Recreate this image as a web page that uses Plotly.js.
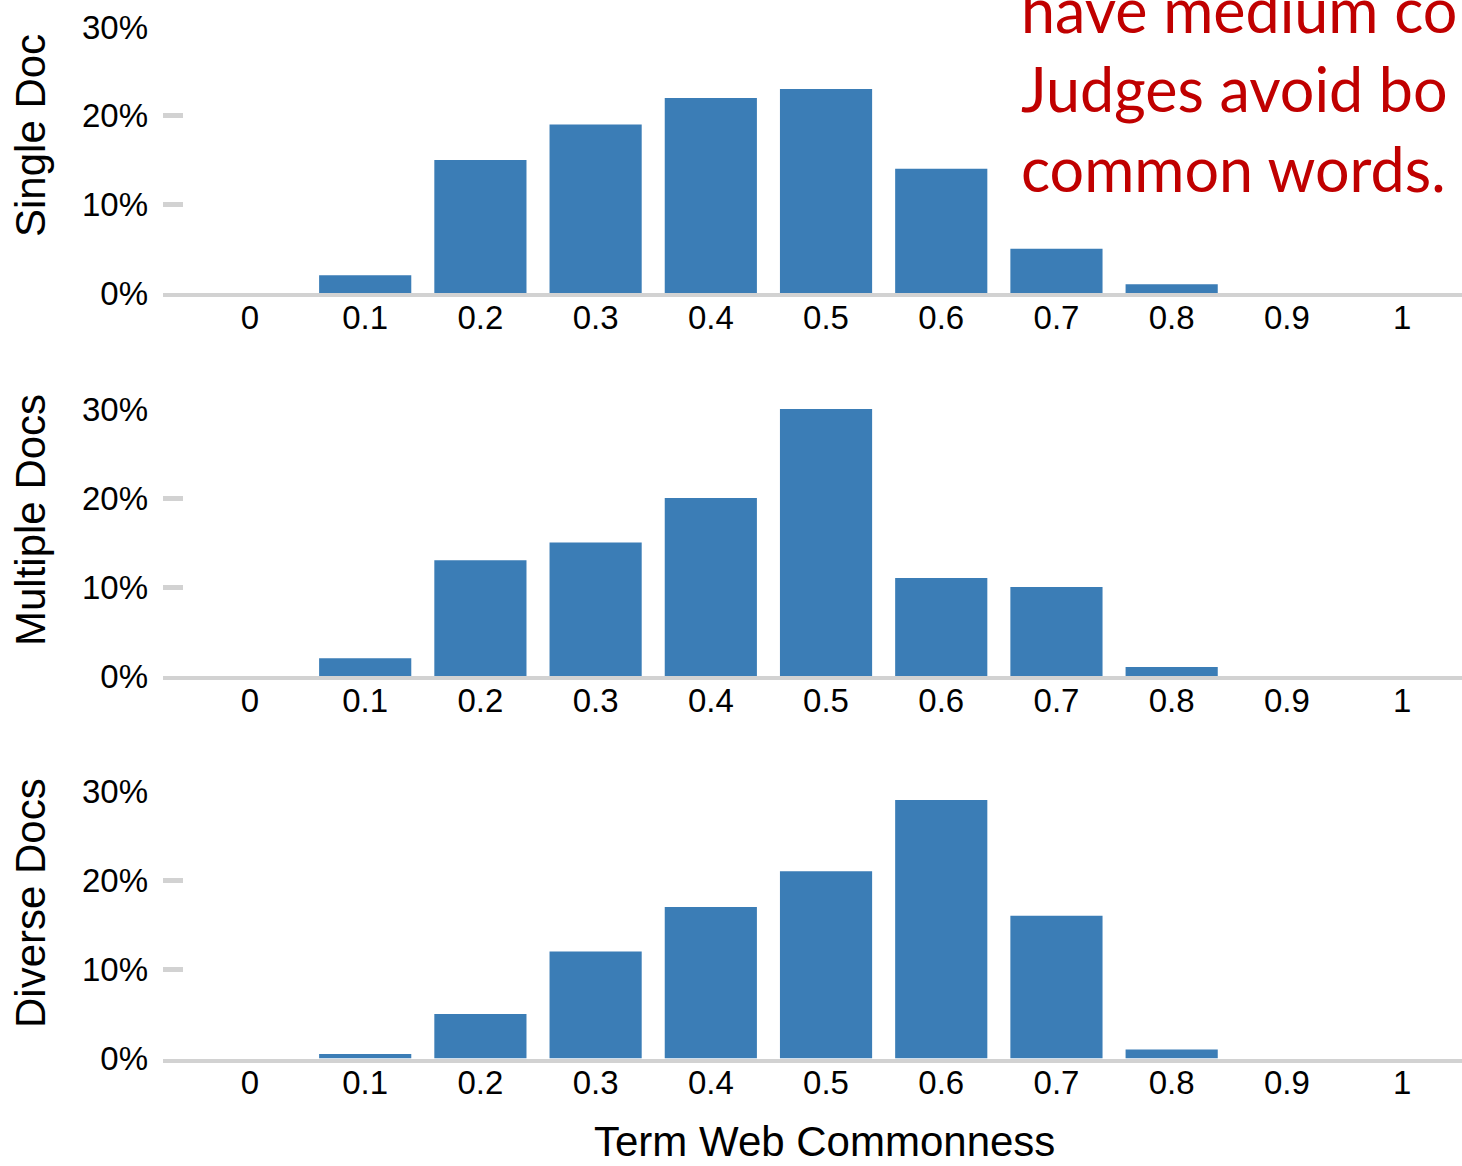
<!DOCTYPE html>
<html>
<head>
<meta charset="utf-8">
<script src="https://cdn.plot.ly/plotly-3.0.1.min.js"></script>
<style>
  html, body { margin: 0; padding: 0; background: #fff; }
  #chart { width: 1462px; height: 1166px; }
</style>
</head>
<body>
<div id="chart"></div>
<script>
const categories = ["0", "0.1", "0.2", "0.3", "0.4", "0.5", "0.6", "0.7", "0.8", "0.9", "1"];
const singleDoc    = [0, 2, 15, 19, 22, 23, 14, 5, 1, 0, 0];
const multipleDocs = [0, 2, 13, 15, 20, 30, 11, 10, 1, 0, 0];
const diverseDocs  = [0, 0.5, 5, 12, 17, 21, 29, 16, 1, 0, 0];
const panelNames = ["Single Doc", "Multiple Docs", "Diverse Docs"];
const yTickVals = [0, 10, 20, 30];
const yTickText = ["0%", "10%", "20%", "30%"];
const xTitle = "Term Web Commonness";
const noteLines = ["have medium co", "Judges avoid bo", "common words."];

const barColor = "#3b7db6";
const axisGray = "#d2d2d2";
const tickFont = { family: "Liberation Sans, Arial, sans-serif", size: 33, color: "#000" };
const titleFont = { family: "Liberation Sans, Arial, sans-serif", size: 42, color: "#000" };

const series = [singleDoc, multipleDocs, diverseDocs];
const traces = series.map((vals, i) => ({
  type: "bar",
  x: categories,
  y: vals,
  xaxis: i === 0 ? "x" : "x" + (i + 1),
  yaxis: i === 0 ? "y" : "y" + (i + 1),
  marker: { color: barColor, line: { width: 0 } },
  name: panelNames[i],
  hoverinfo: "x+y"
}));

const H = 1166, L = 163, W = 1299;
const py = px => 1 - px / H;
const pxX = px => (px - L) / W;

const domains = [[py(293), py(27)], [py(676), py(409)], [py(1058.5), py(791)]];
const titleCenters = [136, 520, 903];

const layout = {
  width: 1462, height: 1166,
  margin: { l: L, r: 0, t: 0, b: 0 },
  paper_bgcolor: "#fff", plot_bgcolor: "#fff",
  showlegend: false,
  bargap: 0.2,
  annotations: [],
  font: tickFont
};

for (let i = 0; i < 3; i++) {
  const xs = i === 0 ? "" : String(i + 1);
  layout["xaxis" + xs] = {
    type: "category",
    categoryorder: "array",
    categoryarray: categories,
    range: [-0.755, 10.52],
    anchor: "y" + xs,
    domain: [0, 1],
    showline: true, linecolor: axisGray, linewidth: 4, layer: "below traces",
    showgrid: false, zeroline: false,
    ticks: "", tickfont: tickFont,
    ticklabelstandoff: -8,
    fixedrange: true
  };
  layout["yaxis" + xs] = {
    domain: domains[i],
    anchor: "x" + xs,
    range: [0, 30],
    tickmode: "array",
    tickvals: yTickVals,
    ticktext: yTickText,
    ticks: "inside", ticklen: 20, tickwidth: 5, tickcolor: axisGray,
    tickfont: tickFont,
    ticklabelstandoff: 14,
    showline: false, showgrid: false, zeroline: false,
    fixedrange: true
  };
  layout.annotations.push({
    text: panelNames[i],
    xref: "paper", yref: "paper",
    x: pxX(30), y: py(titleCenters[i]),
    xanchor: "center", yanchor: "middle",
    textangle: -90,
    showarrow: false,
    font: titleFont
  });
}

layout.annotations.push({
  text: xTitle,
  xref: "paper", yref: "paper",
  x: pxX(824), y: py(1141),
  xanchor: "center", yanchor: "middle",
  showarrow: false,
  font: titleFont
});

layout.annotations.push({
  text: noteLines.join("<br>"),
  xref: "paper", yref: "paper",
  x: pxX(1019), y: py(89),
  xanchor: "left", yanchor: "middle",
  align: "left",
  showarrow: false,
  font: { family: "Lato, sans-serif", size: 61, color: "#c00000" }
});

Plotly.newPlot("chart", traces, layout, { displayModeBar: false, staticPlot: true });
</script>
</body>
</html>
